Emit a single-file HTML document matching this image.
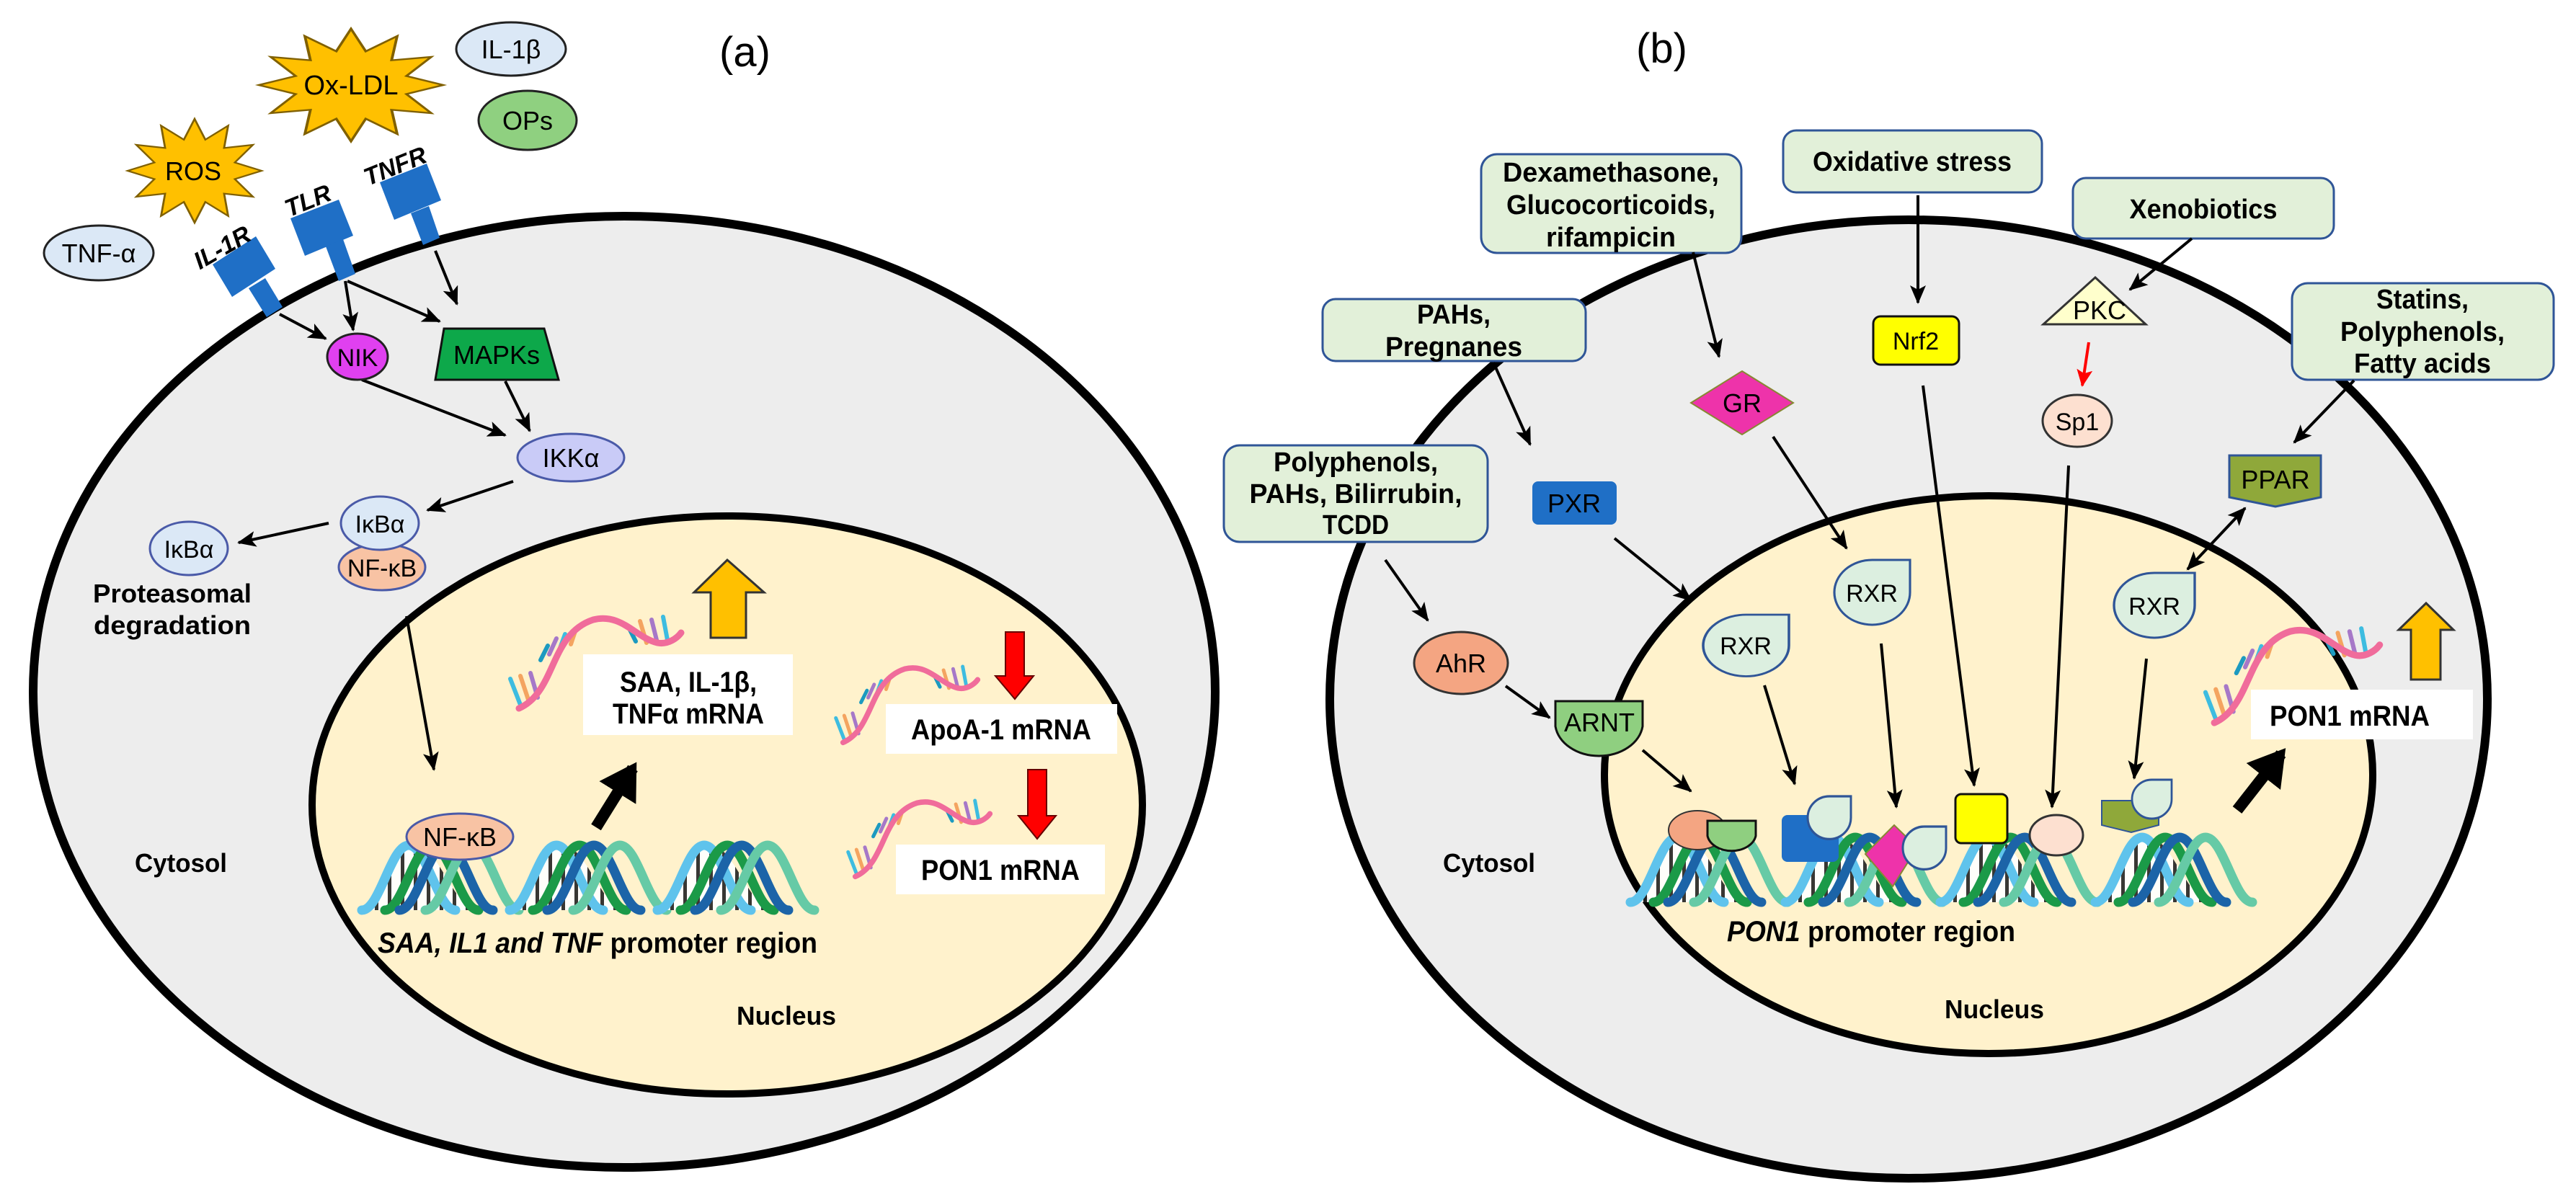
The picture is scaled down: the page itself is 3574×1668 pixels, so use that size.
<!DOCTYPE html>
<html><head><meta charset="utf-8"><style>
html,body{margin:0;padding:0;background:#fff;}
svg{display:block;}
text{font-family:"Liberation Sans",Arial,sans-serif;font-weight:bold;fill:#000;}
</style></head><body>
<svg width="3574" height="1668" viewBox="0 0 3574 1668" xmlns="http://www.w3.org/2000/svg">
<defs>
<marker id="ah" markerUnits="userSpaceOnUse" markerWidth="26" markerHeight="22" refX="24" refY="11" orient="auto"><path d="M0,0 L26,11 L0,22 L6,11 Z" fill="#000"/></marker>
<marker id="ahs" markerUnits="userSpaceOnUse" markerWidth="26" markerHeight="22" refX="2" refY="11" orient="auto"><path d="M26,0 L0,11 L26,22 L20,11 Z" fill="#000"/></marker>
<marker id="ahr" markerUnits="userSpaceOnUse" markerWidth="24" markerHeight="22" refX="22" refY="11" orient="auto"><path d="M0,0 L24,11 L0,22 L5,11 Z" fill="#f00"/></marker>
<marker id="ahb" markerUnits="userSpaceOnUse" markerWidth="60" markerHeight="60" refX="40" refY="30" orient="auto"><path d="M0,0 L50,30 L0,60 Z" fill="#000"/></marker>
<pattern id="stripes" width="18" height="10" patternUnits="userSpaceOnUse"><rect width="18" height="10" fill="#fff"/><rect x="0" width="5" height="10" fill="#222"/></pattern>
<path id="arch" d="M0,90 C25,90 40,0 65,0 C90,0 105,90 130,90" fill="none" stroke-width="13" stroke-linecap="round"/>
<g id="dnagroup">
  <path d="M10,90 C30,90 45,0 75,0 C105,0 130,90 160,90 Z" fill="url(#stripes)" opacity="0.9"/>
  <use href="#arch" stroke="#5fc3ec" x="0"/>
  <use href="#arch" stroke="#1b9a48" x="32"/>
  <use href="#arch" stroke="#1c64a8" x="52"/>
  <use href="#arch" stroke="#66caa6" x="88"/>
</g>
<g id="mrna">
  <g stroke-width="6" stroke-linecap="round">
    <line x1="10" y1="128" x2="-4" y2="92" stroke="#3dbce0"/>
    <line x1="22" y1="124" x2="10" y2="88" stroke="#f4a460"/>
    <line x1="34" y1="118" x2="24" y2="84" stroke="#a678c8"/>
    <line x1="48" y1="46" x2="38" y2="66" stroke="#1c9ac0"/>
    <line x1="60" y1="36" x2="50" y2="58" stroke="#a678c8"/>
    <line x1="72" y1="30" x2="64" y2="52" stroke="#3dbce0"/>
    <line x1="86" y1="26" x2="80" y2="44" stroke="#f4a460"/>
    <line x1="170" y1="40" x2="160" y2="20" stroke="#1c9ac0"/>
    <line x1="185" y1="42" x2="176" y2="12" stroke="#f4a460"/>
    <line x1="200" y1="42" x2="192" y2="10" stroke="#a678c8"/>
    <line x1="214" y1="38" x2="208" y2="6" stroke="#3dbce0"/>
  </g>
  <path d="M8,133 C60,110 50,30 111,10 C150,0 170,35 200,42 C215,45 228,35 233,28" fill="none" stroke="#f06c9b" stroke-width="9" stroke-linecap="round"/>
</g>
<polygon id="star" points="100,0 60,16 87,50 44,44 50,87 16,60 0,100 -16,60 -50,87 -44,44 -87,50 -60,16 -100,0 -60,-16 -87,-50 -44,-44 -50,-87 -16,-60 0,-100 16,-60 50,-87 44,-44 87,-50 60,-16"/>
<path id="rxr" d="M100,0 L100,45 A50,45 0 0 1 50,90 A50,45 0 0 1 0,45 A50,45 0 0 1 50,0 Z"/>
</defs>

<!-- ===== Panel (a) ===== -->
<ellipse cx="866" cy="960" rx="820" ry="660" fill="#ededed" stroke="#000" stroke-width="12"/>
<ellipse cx="1009" cy="1117" rx="576" ry="401" fill="#fff2cc" stroke="#000" stroke-width="10"/>

<text x="998" y="92" font-size="58" style="font-weight:normal">(a)</text>

<ellipse cx="709" cy="68" rx="76" ry="37" fill="#dbe8f6" stroke="#222" stroke-width="3"/>
<text x="709" y="81" font-size="36" text-anchor="middle" style="font-weight:normal">IL-1β</text>
<ellipse cx="732" cy="167" rx="68" ry="41" fill="#8fd080" stroke="#222" stroke-width="3"/>
<text x="732" y="180" font-size="36" text-anchor="middle" style="font-weight:normal">OPs</text>
<use href="#star" transform="translate(487,118) scale(1.28,0.78)" fill="#ffc000" stroke="#806000" stroke-width="3" vector-effect="non-scaling-stroke"/>
<text x="487" y="131" font-size="38" text-anchor="middle" style="font-weight:normal">Ox-LDL</text>
<use href="#star" transform="translate(270,237) scale(0.93,0.72)" fill="#ffc000" stroke="#806000" stroke-width="3" vector-effect="non-scaling-stroke"/>
<text x="268" y="250" font-size="36" text-anchor="middle" style="font-weight:normal">ROS</text>
<ellipse cx="137" cy="351" rx="76" ry="38" fill="#dbe8f6" stroke="#222" stroke-width="3"/>
<text x="137" y="364" font-size="36" text-anchor="middle" style="font-weight:normal">TNF-α</text>

<g fill="#1f6fc6">
  <polygon points="295,367 355,328 382,373 322,412"/>
  <polygon points="345,400 368,386 392,426 370,440"/>
  <polygon points="403,303 470,277 490,327 423,355"/>
  <polygon points="452,342 476,332 493,380 470,390"/>
  <polygon points="527,253 592,227 612,278 547,305"/>
  <polygon points="570,296 595,286 610,330 587,340"/>
</g>
<text x="308" y="355" font-size="34" text-anchor="middle" font-style="italic" transform="rotate(-30 308 343)">IL-1R</text>
<text x="427" y="290" font-size="34" text-anchor="middle" font-style="italic" transform="rotate(-22 427 278)">TLR</text>
<text x="548" y="242" font-size="34" text-anchor="middle" font-style="italic" transform="rotate(-22 548 230)">TNFR</text>

<g stroke="#000" stroke-width="4" fill="none" marker-end="url(#ah)">
  <line x1="388" y1="436" x2="452" y2="470"/>
  <line x1="479" y1="390" x2="490" y2="458"/>
  <line x1="482" y1="390" x2="610" y2="446"/>
  <line x1="604" y1="348" x2="634" y2="422"/>
  <line x1="502" y1="527" x2="701" y2="604"/>
  <line x1="701" y1="529" x2="735" y2="598"/>
  <line x1="712" y1="668" x2="593" y2="708"/>
  <line x1="456" y1="726" x2="331" y2="753"/>
  <line x1="564" y1="855" x2="602" y2="1068"/>
</g>

<ellipse cx="496" cy="495" rx="42" ry="32" fill="#e040f0" stroke="#222" stroke-width="3"/>
<text x="496" y="508" font-size="34" text-anchor="middle" style="font-weight:normal">NIK</text>
<polygon points="616,456 755,456 775,527 604,527" fill="#0da84a" stroke="#111" stroke-width="3"/>
<text x="689" y="505" font-size="36" text-anchor="middle" style="font-weight:normal">MAPKs</text>
<ellipse cx="792" cy="635" rx="74" ry="33" fill="#c9cbf7" stroke="#4a5aa8" stroke-width="3"/>
<text x="792" y="648" font-size="36" text-anchor="middle" style="font-weight:normal">IKKα</text>
<ellipse cx="530" cy="787" rx="60" ry="32" fill="#f8c3a4" stroke="#4a5aa8" stroke-width="3"/>
<text x="530" y="800" font-size="34" text-anchor="middle" style="font-weight:normal">NF-κB</text>
<ellipse cx="527" cy="726" rx="54" ry="37" fill="#dbe8f6" stroke="#4a5aa8" stroke-width="3"/>
<text x="527" y="739" font-size="34" text-anchor="middle" style="font-weight:normal">IκBα</text>
<ellipse cx="262" cy="761" rx="54" ry="37" fill="#dbe8f6" stroke="#4a5aa8" stroke-width="3"/>
<text x="262" y="774" font-size="34" text-anchor="middle" style="font-weight:normal">IκBα</text>
<text x="239" y="836" font-size="36" text-anchor="middle" textLength="220" lengthAdjust="spacingAndGlyphs">Proteasomal</text>
<text x="239" y="880" font-size="36" text-anchor="middle" textLength="218" lengthAdjust="spacingAndGlyphs">degradation</text>
<text x="251" y="1210" font-size="36" text-anchor="middle" textLength="128" lengthAdjust="spacingAndGlyphs">Cytosol</text>

<g transform="translate(502,1173)"><use href="#dnagroup"/><use href="#dnagroup" x="205"/><use href="#dnagroup" x="410"/></g>
<ellipse cx="638" cy="1161" rx="74" ry="32" fill="#f8c3a4" stroke="#4a5aa8" stroke-width="3"/>
<text x="638" y="1174" font-size="36" text-anchor="middle" style="font-weight:normal">NF-κB</text>
<text x="829" y="1322" font-size="40" text-anchor="middle" textLength="610" lengthAdjust="spacingAndGlyphs"><tspan font-style="italic">SAA, IL1 and TNF</tspan> promoter region</text>
<text x="1091" y="1422" font-size="36" text-anchor="middle" textLength="138" lengthAdjust="spacingAndGlyphs">Nucleus</text>

<line x1="827" y1="1148" x2="878" y2="1066" stroke="#000" stroke-width="16" marker-end="url(#ahb)"/>
<use href="#mrna" transform="translate(712,850)"/>
<rect x="809" y="908" width="291" height="112" fill="#fff"/>
<text x="955" y="960" font-size="40" text-anchor="middle" textLength="190" lengthAdjust="spacingAndGlyphs">SAA, IL-1β,</text>
<text x="955" y="1004" font-size="40" text-anchor="middle" textLength="210" lengthAdjust="spacingAndGlyphs">TNFα mRNA</text>
<polygon points="986,885 1035,885 1035,822 1060,822 1009,777 963,822 986,822" fill="#ffc000" stroke="#333" stroke-width="3"/>

<use href="#mrna" transform="translate(1163,920) scale(0.83)"/>
<rect x="1229" y="977" width="321" height="69" fill="#fff"/>
<text x="1389" y="1026" font-size="40" text-anchor="middle" textLength="250" lengthAdjust="spacingAndGlyphs">ApoA-1 mRNA</text>
<polygon points="1395,877 1421,877 1421,938 1434,938 1408,970 1381,938 1395,938" fill="#f00" stroke="#600" stroke-width="2"/>
<use href="#mrna" transform="translate(1180,1106) scale(0.83)"/>
<rect x="1243" y="1172" width="290" height="69" fill="#fff"/>
<text x="1388" y="1221" font-size="40" text-anchor="middle" textLength="220" lengthAdjust="spacingAndGlyphs">PON1 mRNA</text>
<polygon points="1426,1068 1452,1068 1452,1132 1465,1132 1439,1164 1413,1132 1426,1132" fill="#f00" stroke="#600" stroke-width="2"/>

<!-- ===== Panel (b) ===== -->
<ellipse cx="2648" cy="970" rx="803" ry="665" fill="#ededed" stroke="#000" stroke-width="12"/>
<ellipse cx="2759" cy="1075" rx="533" ry="387" fill="#fff2cc" stroke="#000" stroke-width="10"/>
<text x="2270" y="87" font-size="58" style="font-weight:normal">(b)</text>

<g fill="#e2f0d9" stroke="#2f5597" stroke-width="3">
  <rect x="2055" y="214" width="361" height="137" rx="22"/>
  <rect x="2474" y="181" width="359" height="86" rx="18"/>
  <rect x="2876" y="247" width="362" height="84" rx="18"/>
  <rect x="1835" y="415" width="365" height="86" rx="18"/>
  <rect x="3180" y="393" width="363" height="134" rx="22"/>
  <rect x="1698" y="618" width="366" height="134" rx="22"/>
</g>
<g font-size="38" text-anchor="middle">
  <text x="2235" y="252" textLength="300" lengthAdjust="spacingAndGlyphs">Dexamethasone,</text>
  <text x="2235" y="297" textLength="290" lengthAdjust="spacingAndGlyphs">Glucocorticoids,</text>
  <text x="2235" y="342" textLength="180" lengthAdjust="spacingAndGlyphs">rifampicin</text>
  <text x="2653" y="237" textLength="276" lengthAdjust="spacingAndGlyphs">Oxidative stress</text>
  <text x="3057" y="303" textLength="205" lengthAdjust="spacingAndGlyphs">Xenobiotics</text>
  <text x="2017" y="449" textLength="102" lengthAdjust="spacingAndGlyphs">PAHs,</text>
  <text x="2017" y="494" textLength="190" lengthAdjust="spacingAndGlyphs">Pregnanes</text>
  <text x="3361" y="428" textLength="128" lengthAdjust="spacingAndGlyphs">Statins,</text>
  <text x="3361" y="473" textLength="228" lengthAdjust="spacingAndGlyphs">Polyphenols,</text>
  <text x="3361" y="517" textLength="190" lengthAdjust="spacingAndGlyphs">Fatty acids</text>
  <text x="1881" y="654" textLength="228" lengthAdjust="spacingAndGlyphs">Polyphenols,</text>
  <text x="1881" y="698" textLength="295" lengthAdjust="spacingAndGlyphs">PAHs,  Bilirrubin,</text>
  <text x="1881" y="741" textLength="92" lengthAdjust="spacingAndGlyphs">TCDD</text>
</g>

<g stroke="#000" stroke-width="4" fill="none" marker-end="url(#ah)">
  <line x1="2349" y1="350" x2="2385" y2="495"/>
  <line x1="2661" y1="271" x2="2661" y2="420"/>
  <line x1="3041" y1="331" x2="2955" y2="402"/>
  <line x1="2072" y1="503" x2="2123" y2="617"/>
  <line x1="2240" y1="747" x2="2346" y2="833"/>
  <line x1="2460" y1="606" x2="2562" y2="761"/>
  <line x1="2668" y1="535" x2="2739" y2="1090"/>
  <line x1="2870" y1="646" x2="2847" y2="1120"/>
  <line x1="3266" y1="528" x2="3183" y2="614"/>
  <line x1="3115" y1="705" x2="3035" y2="790" marker-start="url(#ahs)"/>
  <line x1="1922" y1="777" x2="1981" y2="861"/>
  <line x1="2089" y1="952" x2="2150" y2="996"/>
  <line x1="2279" y1="1041" x2="2346" y2="1098"/>
  <line x1="2448" y1="951" x2="2490" y2="1088"/>
  <line x1="2610" y1="893" x2="2631" y2="1120"/>
  <line x1="2978" y1="914" x2="2961" y2="1080"/>
</g>
<line x1="2898" y1="475" x2="2889" y2="535" stroke="#f00" stroke-width="4" marker-end="url(#ahr)"/>

<polygon points="2907,385 2977,450 2835,450" fill="#ffffcc" stroke="#333" stroke-width="3"/>
<text x="2913" y="443" font-size="36" text-anchor="middle" style="font-weight:normal">PKC</text>
<ellipse cx="2882" cy="584" rx="48" ry="36" fill="#fde0d0" stroke="#333" stroke-width="3"/>
<text x="2882" y="597" font-size="34" text-anchor="middle" style="font-weight:normal">Sp1</text>
<rect x="2599" y="439" width="119" height="67" rx="10" fill="#ffff00" stroke="#111" stroke-width="3"/>
<text x="2658" y="485" font-size="34" text-anchor="middle" style="font-weight:normal">Nrf2</text>
<polygon points="2417,515 2488,559 2417,603 2346,559" fill="#ee33aa" stroke="#883" stroke-width="2"/>
<text x="2417" y="572" font-size="36" text-anchor="middle" style="font-weight:normal">GR</text>
<rect x="2126" y="668" width="117" height="60" rx="8" fill="#1f6fc6"/>
<text x="2184" y="711" font-size="36" text-anchor="middle" style="font-weight:normal">PXR</text>
<polygon points="3093,632 3220,632 3220,690 3157,703 3093,690" fill="#8fa83a" stroke="#2f5597" stroke-width="3"/>
<text x="3157" y="678" font-size="36" text-anchor="middle" style="font-weight:normal">PPAR</text>
<ellipse cx="2027" cy="920" rx="65" ry="43" fill="#f4a582" stroke="#333" stroke-width="3"/>
<text x="2027" y="933" font-size="36" text-anchor="middle" style="font-weight:normal">AhR</text>
<path d="M2158,973 L2279,973 L2279,1008 A61,47 0 0 1 2158,1008 Z" fill="#8fcf80" stroke="#111" stroke-width="3"/>
<text x="2219" y="1015" font-size="36" text-anchor="middle" style="font-weight:normal">ARNT</text>

<g fill="#dcefe0" stroke="#2f5597" stroke-width="3">
  <use href="#rxr" transform="translate(2545,777) scale(1.05,1)"/>
  <use href="#rxr" transform="translate(2363,853) scale(1.19,0.95)"/>
  <use href="#rxr" transform="translate(2933,795) scale(1.12,1)"/>
</g>
<text x="2597" y="835" font-size="34" text-anchor="middle" style="font-weight:normal">RXR</text>
<text x="2422" y="908" font-size="34" text-anchor="middle" style="font-weight:normal">RXR</text>
<text x="2989" y="853" font-size="34" text-anchor="middle" style="font-weight:normal">RXR</text>

<text x="2066" y="1210" font-size="36" text-anchor="middle" textLength="128" lengthAdjust="spacingAndGlyphs">Cytosol</text>
<text x="2767" y="1413" font-size="36" text-anchor="middle" textLength="138" lengthAdjust="spacingAndGlyphs">Nucleus</text>
<text x="2596" y="1306" font-size="40" text-anchor="middle" textLength="400" lengthAdjust="spacingAndGlyphs"><tspan font-style="italic">PON1</tspan> promoter region</text>

<g transform="translate(2262,1162)"><use href="#dnagroup"/><use href="#dnagroup" x="215"/><use href="#dnagroup" x="430"/><use href="#dnagroup" x="645"/></g>
<ellipse cx="2355" cy="1152" rx="40" ry="27" fill="#f4a582" stroke="#333" stroke-width="2"/>
<path d="M2369,1139 L2436,1139 L2436,1160 A34,25 0 0 1 2369,1160 Z" fill="#8fcf80" stroke="#111" stroke-width="3"/>
<rect x="2472" y="1131" width="79" height="65" rx="8" fill="#1f6fc6"/>
<use href="#rxr" transform="translate(2508,1105) scale(0.6,0.66)" fill="#dcefe0" stroke="#2f5597" stroke-width="5"/>
<polygon points="2628,1145 2660,1176 2626,1230 2588,1185" fill="#ee33aa" stroke="#883" stroke-width="2"/>
<use href="#rxr" transform="translate(2640,1147) scale(0.6,0.66)" fill="#dcefe0" stroke="#2f5597" stroke-width="5"/>
<rect x="2713" y="1102" width="72" height="68" rx="8" fill="#ffff00" stroke="#111" stroke-width="3"/>
<ellipse cx="2853" cy="1159" rx="37" ry="28" fill="#fde0d0" stroke="#333" stroke-width="3"/>
<polygon points="2916,1111 2995,1111 2995,1145 2957,1155 2916,1145" fill="#8fa83a" stroke="#2f5597" stroke-width="2"/>
<use href="#rxr" transform="translate(2958,1082) scale(0.55,0.6)" fill="#dcefe0" stroke="#2f5597" stroke-width="5"/>

<line x1="3104" y1="1124" x2="3165" y2="1046" stroke="#000" stroke-width="16" marker-end="url(#ahb)"/>
<use href="#mrna" transform="translate(3064,866) scale(1.02,1.03)"/>
<rect x="3123" y="957" width="308" height="69" fill="#fff"/>
<text x="3260" y="1007" font-size="40" text-anchor="middle" textLength="222" lengthAdjust="spacingAndGlyphs">PON1 mRNA</text>
<polygon points="3345,943 3386,943 3386,874 3404,874 3366,837 3328,874 3345,874" fill="#ffc000" stroke="#333" stroke-width="3"/>
</svg>
</body></html>
